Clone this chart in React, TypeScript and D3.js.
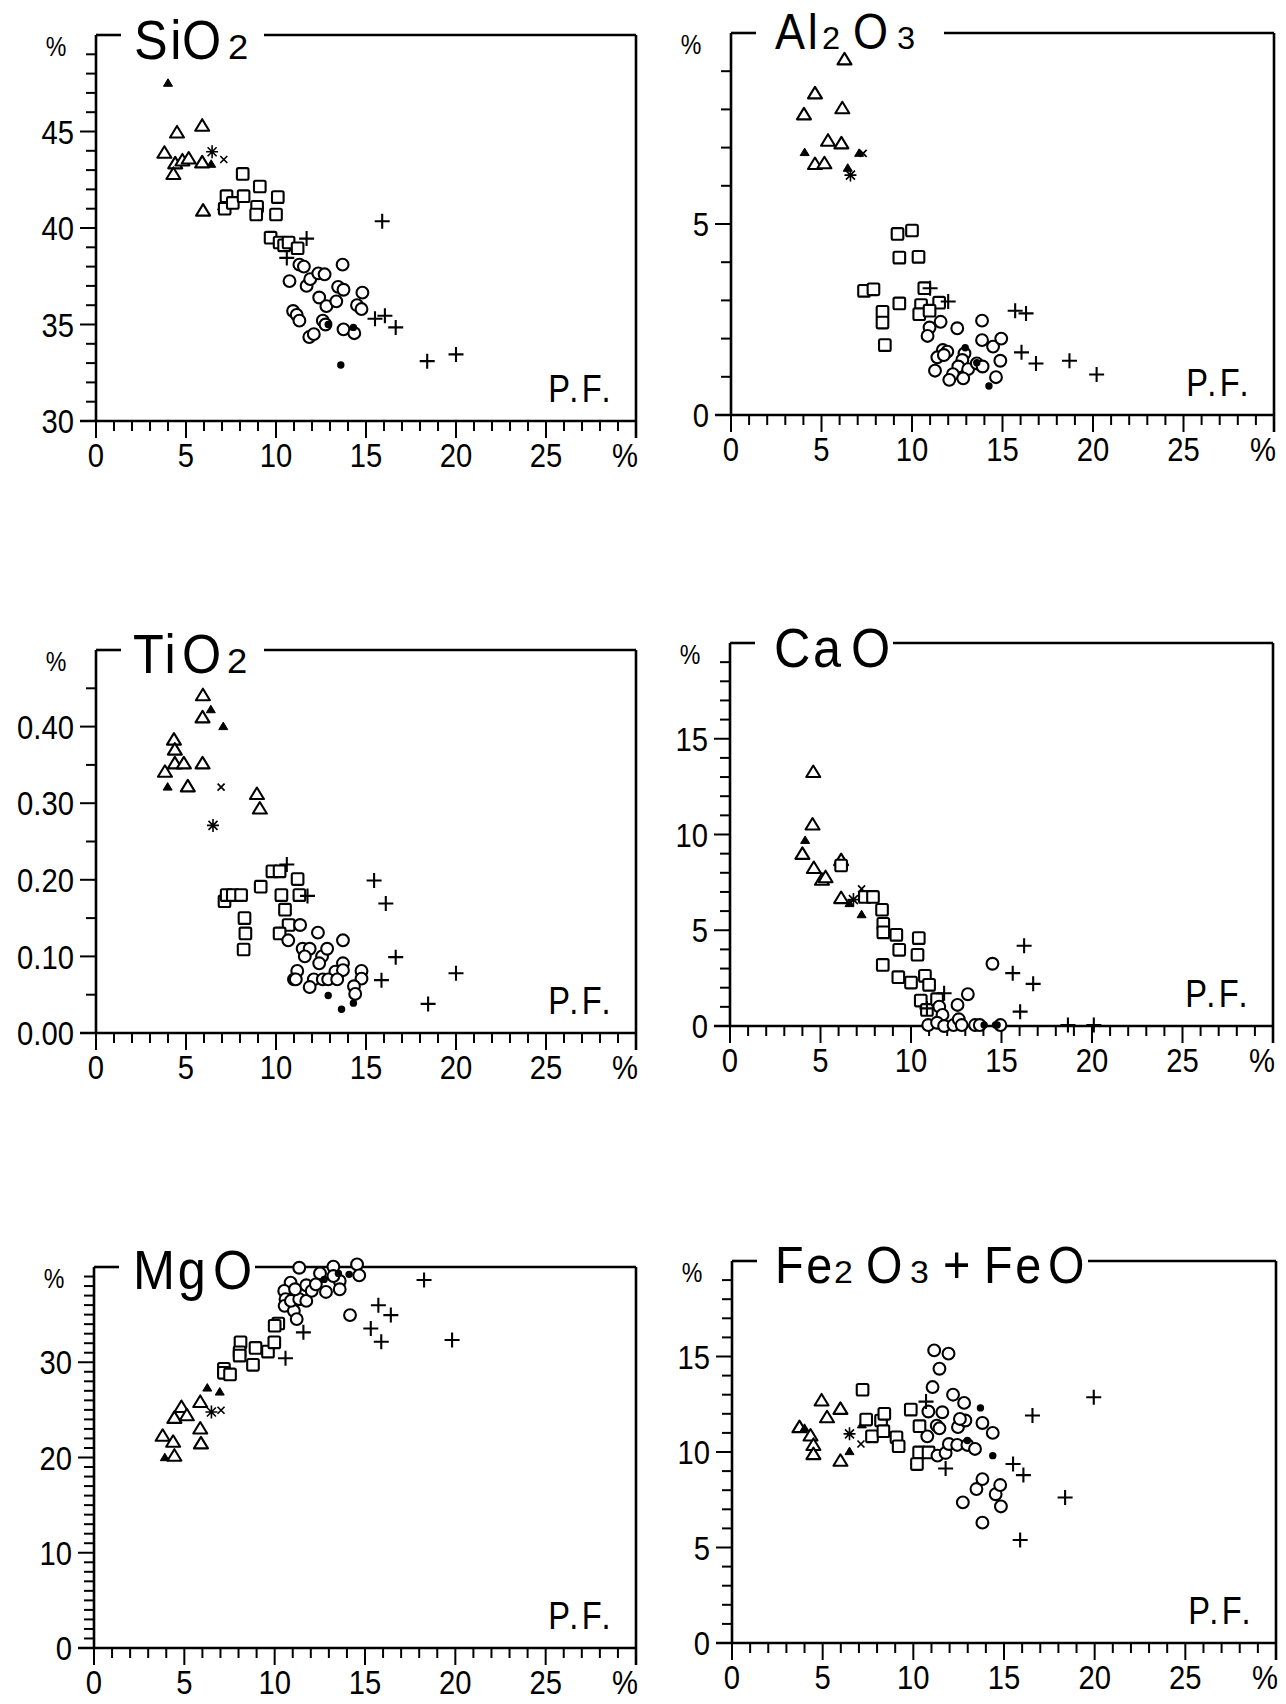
import React from "react";
import * as d3 from "d3";

// group codes: T open triangle, t filled triangle, S square, C open circle,
// c filled circle, P plus, A asterisk, X x-mark
type Pt = [number, number, string];

const PF_MINOR = d3.range(0, 30, 1);
const PF_LABELS = [0, 5, 10, 15, 20, 25];

const SIO2: Pt[] = [
  [4.0, 47.5, "t"], [6.4, 43.3, "t"], [7.0, 41.1, "t"],
  [3.8, 43.9, "T"], [4.5, 44.95, "T"], [5.9, 45.3, "T"], [4.4, 43.35, "T"], [4.8, 43.5, "T"],
  [5.15, 43.6, "T"], [5.9, 43.4, "T"], [4.3, 42.8, "T"], [5.95, 40.9, "T"],
  [6.45, 43.95, "A"], [7.1, 43.55, "X"],
  [7.25, 41.65, "S"], [7.15, 41.0, "S"], [7.6, 41.3, "S"], [8.15, 42.8, "S"], [8.2, 41.65, "S"],
  [9.1, 42.15, "S"], [8.95, 41.1, "S"], [8.9, 40.7, "S"], [10.1, 41.6, "S"], [10.0, 40.7, "S"],
  [9.7, 39.5, "S"], [10.2, 39.25, "S"], [10.45, 39.1, "S"], [10.7, 39.25, "S"], [11.2, 38.95, "S"],
  [11.3, 38.1, "C"], [11.55, 38.0, "C"], [10.75, 37.25, "C"], [11.7, 37.0, "C"], [11.9, 37.35, "C"],
  [12.35, 37.65, "C"], [12.7, 37.6, "C"], [12.4, 36.4, "C"], [12.8, 35.95, "C"], [13.35, 36.2, "C"],
  [13.45, 36.95, "C"], [13.75, 36.8, "C"], [13.7, 38.1, "C"], [14.5, 36.0, "C"], [14.75, 35.8, "C"],
  [14.8, 36.65, "C"], [10.95, 35.7, "C"], [11.15, 35.5, "C"], [11.3, 35.2, "C"], [11.85, 34.35, "C"],
  [12.1, 34.5, "C"], [12.6, 35.2, "C"], [12.75, 35.0, "C"], [13.75, 34.75, "C"], [14.35, 34.55, "C"],
  [12.9, 35.0, "c"], [14.3, 34.85, "c"], [13.6, 32.9, "c"],
  [11.7, 39.45, "P"], [10.6, 38.45, "P"], [15.9, 40.35, "P"], [15.5, 35.3, "P"], [16.05, 35.45, "P"],
  [16.65, 34.85, "P"], [18.4, 33.1, "P"], [20.0, 33.45, "P"],
];

const AL2O3: Pt[] = [
  [6.27, 9.31, "T"], [4.64, 8.42, "T"], [6.15, 8.03, "T"], [4.03, 7.87, "T"], [5.36, 7.18, "T"],
  [6.1, 7.11, "T"], [4.64, 6.57, "T"], [5.16, 6.59, "T"],
  [4.07, 6.87, "t"], [7.08, 6.85, "t"], [6.45, 6.46, "t"],
  [7.3, 6.85, "X"], [6.6, 6.28, "A"],
  [9.2, 4.74, "S"], [10.0, 4.83, "S"], [9.3, 4.12, "S"], [10.36, 4.14, "S"], [7.35, 3.25, "S"],
  [7.87, 3.29, "S"], [10.68, 3.32, "S"], [9.3, 2.92, "S"], [10.5, 2.88, "S"], [11.5, 2.94, "S"],
  [8.37, 2.7, "S"], [8.37, 2.42, "S"], [10.4, 2.64, "S"], [10.97, 2.73, "S"], [8.5, 1.83, "S"],
  [10.97, 2.29, "C"], [10.86, 2.07, "C"], [11.58, 2.44, "C"], [12.5, 2.27, "C"], [13.87, 2.47, "C"],
  [13.87, 1.96, "C"], [14.48, 1.79, "C"], [14.93, 2.0, "C"], [14.88, 1.42, "C"], [11.7, 1.7, "C"],
  [11.95, 1.66, "C"], [11.4, 1.51, "C"], [11.76, 1.57, "C"], [12.9, 1.61, "C"], [12.78, 1.44, "C"],
  [12.56, 1.27, "C"], [13.1, 1.2, "C"], [13.58, 1.35, "C"], [13.9, 1.27, "C"], [11.27, 1.16, "C"],
  [12.26, 1.07, "C"], [12.06, 0.92, "C"], [12.83, 0.96, "C"], [14.64, 0.99, "C"],
  [12.94, 1.76, "c"], [13.58, 1.37, "c"], [14.25, 0.76, "c"],
  [11.0, 3.32, "P"], [12.0, 2.97, "P"], [15.7, 2.73, "P"], [16.3, 2.66, "P"], [16.05, 1.64, "P"],
  [16.85, 1.35, "P"], [18.7, 1.42, "P"], [20.2, 1.06, "P"],
];

const TIO2: Pt[] = [
  [5.94, 0.441, "T"], [5.92, 0.412, "T"], [4.33, 0.383, "T"], [4.38, 0.37, "T"], [3.83, 0.341, "T"],
  [4.38, 0.352, "T"], [4.88, 0.352, "T"], [5.1, 0.322, "T"], [5.92, 0.352, "T"], [8.94, 0.312, "T"],
  [9.1, 0.293, "T"],
  [6.38, 0.422, "t"], [7.07, 0.4, "t"], [3.98, 0.321, "t"],
  [6.95, 0.321, "X"], [6.5, 0.271, "A"],
  [7.14, 0.172, "S"], [7.26, 0.18, "S"], [7.6, 0.18, "S"], [8.06, 0.18, "S"], [8.25, 0.15, "S"],
  [8.3, 0.13, "S"], [8.2, 0.109, "S"], [9.15, 0.191, "S"], [9.8, 0.211, "S"], [10.2, 0.211, "S"],
  [11.2, 0.201, "S"], [10.3, 0.18, "S"], [10.5, 0.161, "S"], [11.3, 0.18, "S"], [10.7, 0.141, "S"],
  [10.2, 0.13, "S"],
  [11.34, 0.141, "C"], [10.68, 0.121, "C"], [12.33, 0.131, "C"], [11.48, 0.11, "C"], [11.87, 0.11, "C"],
  [11.6, 0.1, "C"], [12.56, 0.1, "C"], [12.84, 0.11, "C"], [12.4, 0.091, "C"], [13.72, 0.121, "C"],
  [13.72, 0.091, "C"], [13.3, 0.08, "C"], [13.72, 0.082, "C"], [14.75, 0.081, "C"], [11.18, 0.081, "C"],
  [11.0, 0.07, "C"], [11.1, 0.07, "C"], [12.1, 0.07, "C"], [12.6, 0.07, "C"], [12.9, 0.07, "C"],
  [13.4, 0.07, "C"], [14.75, 0.071, "C"], [11.87, 0.06, "C"], [14.33, 0.061, "C"], [14.4, 0.051, "C"],
  [12.9, 0.049, "c"], [13.64, 0.031, "c"], [14.3, 0.039, "c"],
  [10.6, 0.22, "P"], [11.75, 0.179, "P"], [15.45, 0.199, "P"], [16.1, 0.169, "P"], [16.65, 0.099, "P"],
  [15.86, 0.069, "P"], [18.45, 0.038, "P"], [20.0, 0.078, "P"],
];

const CAO: Pt[] = [
  [4.6, 13.26, "T"], [4.56, 10.52, "T"], [4.0, 8.99, "T"], [4.63, 8.25, "T"], [5.08, 7.64, "T"],
  [5.28, 7.77, "T"], [6.14, 8.66, "T"], [6.14, 6.68, "T"],
  [4.15, 9.69, "t"], [6.6, 6.39, "t"], [7.27, 5.81, "t"],
  [7.27, 7.16, "X"], [6.82, 6.6, "A"],
  [6.14, 8.38, "S"], [7.45, 6.74, "S"], [7.9, 6.74, "S"], [8.4, 6.07, "S"], [8.47, 5.34, "S"],
  [8.47, 4.89, "S"], [9.19, 4.76, "S"], [9.35, 3.98, "S"], [10.43, 4.59, "S"], [10.36, 3.72, "S"],
  [8.44, 3.19, "S"], [9.3, 2.55, "S"], [10.0, 2.27, "S"], [10.77, 2.62, "S"], [11.0, 2.15, "S"],
  [10.54, 1.33, "S"], [10.88, 0.84, "S"], [11.44, 1.4, "S"],
  [11.56, 1.01, "C"], [11.74, 0.58, "C"], [12.57, 1.1, "C"], [13.14, 1.66, "C"], [14.5, 3.25, "C"],
  [10.95, 0.05, "C"], [11.44, 0.17, "C"], [11.83, 0.0, "C"], [12.35, 0.05, "C"], [12.64, 0.35, "C"],
  [12.8, 0.05, "C"], [13.54, 0.05, "C"], [13.8, 0.05, "C"], [14.94, 0.05, "C"],
  [14.04, 0.05, "c"], [14.67, 0.05, "c"], [14.76, 0.05, "c"],
  [11.83, 1.71, "P"], [10.88, 0.92, "P"], [15.62, 2.76, "P"], [16.25, 4.19, "P"], [16.75, 2.2, "P"],
  [16.03, 0.75, "P"], [18.67, 0.05, "P"], [20.1, 0.05, "P"],
];

const MGO: Pt[] = [
  [3.8, 22.28, "T"], [4.38, 21.65, "T"], [4.45, 20.19, "T"], [4.45, 24.16, "T"], [4.84, 25.3, "T"],
  [5.14, 24.43, "T"], [5.88, 25.83, "T"], [5.88, 23.04, "T"], [5.92, 21.48, "T"],
  [3.92, 19.98, "t"], [6.27, 27.29, "t"], [6.96, 26.87, "t"],
  [6.5, 24.78, "A"], [7.03, 24.96, "X"],
  [7.19, 29.31, "S"], [7.19, 28.89, "S"], [7.53, 28.72, "S"], [8.11, 32.09, "S"], [8.06, 31.05, "S"],
  [8.06, 30.7, "S"], [8.94, 31.5, "S"], [8.8, 29.73, "S"], [9.63, 31.12, "S"], [9.98, 32.09, "S"],
  [10.2, 34.07, "S"], [10.0, 33.83, "S"],
  [11.36, 39.92, "C"], [10.88, 38.36, "C"], [10.53, 37.49, "C"], [10.6, 36.62, "C"], [10.55, 35.92, "C"],
  [11.06, 35.4, "C"], [11.22, 34.53, "C"], [10.9, 36.44, "C"], [11.36, 36.62, "C"], [11.75, 36.44, "C"],
  [11.75, 38.08, "C"], [11.13, 37.66, "C"], [12.05, 37.49, "C"], [12.28, 38.18, "C"], [12.51, 39.33, "C"],
  [12.84, 37.38, "C"], [13.25, 40.03, "C"], [13.6, 38.53, "C"], [13.6, 37.66, "C"], [13.25, 39.05, "C"],
  [14.56, 40.27, "C"], [14.68, 39.12, "C"], [14.17, 34.95, "C"],
  [12.74, 38.7, "c"], [13.53, 39.33, "c"], [14.12, 39.23, "c"],
  [10.6, 30.42, "P"], [11.59, 33.14, "P"], [15.32, 33.55, "P"], [15.74, 35.99, "P"], [16.43, 34.95, "P"],
  [15.9, 32.16, "P"], [18.27, 38.64, "P"], [19.82, 32.34, "P"],
];

const FEO: Pt[] = [
  [3.72, 11.3, "T"], [4.33, 10.86, "T"], [4.49, 10.37, "T"], [4.49, 9.89, "T"], [4.94, 12.7, "T"],
  [5.24, 11.82, "T"], [5.98, 12.26, "T"], [5.98, 9.54, "T"],
  [4.0, 11.24, "t"], [6.48, 10.02, "t"], [7.16, 11.42, "t"],
  [6.48, 10.95, "A"], [7.11, 10.42, "X"],
  [7.2, 13.26, "S"], [7.4, 11.7, "S"], [7.72, 10.82, "S"], [8.22, 11.65, "S"], [8.4, 12.0, "S"],
  [8.35, 11.09, "S"], [9.07, 10.77, "S"], [9.19, 10.3, "S"], [9.86, 12.22, "S"], [10.34, 11.35, "S"],
  [10.32, 9.98, "S"], [10.2, 9.37, "S"], [10.84, 9.98, "S"],
  [11.15, 15.32, "C"], [11.94, 15.15, "C"], [11.44, 14.36, "C"], [11.06, 13.4, "C"], [10.83, 12.12, "C"],
  [11.6, 12.08, "C"], [12.19, 13.0, "C"], [12.8, 12.57, "C"], [11.29, 11.38, "C"], [11.44, 11.24, "C"],
  [10.77, 10.82, "C"], [11.33, 9.81, "C"], [11.78, 9.95, "C"], [11.96, 10.42, "C"], [12.42, 10.37, "C"],
  [12.46, 11.3, "C"], [12.87, 11.65, "C"], [12.57, 11.73, "C"], [12.98, 10.37, "C"], [13.4, 10.16, "C"],
  [13.81, 11.52, "C"], [14.38, 11.0, "C"], [12.73, 7.36, "C"], [13.48, 8.06, "C"], [13.81, 8.58, "C"],
  [14.54, 7.79, "C"], [14.79, 8.27, "C"], [14.83, 7.15, "C"], [13.81, 6.3, "C"],
  [13.7, 12.31, "c"], [12.98, 10.6, "c"], [14.38, 9.81, "c"],
  [10.7, 12.64, "P"], [11.78, 9.14, "P"], [15.5, 9.37, "P"], [16.07, 8.79, "P"], [16.57, 11.91, "P"],
  [15.89, 5.39, "P"], [18.37, 7.62, "P"], [19.95, 12.87, "P"],
];

const SIO2_LABELS = [30, 35, 40, 45];
const AL2O3_LABELS = [0, 5];
const TIO2_LABELS = [0, 0.1, 0.2, 0.3, 0.4];
const CAO_LABELS = [0, 5, 10, 15];
const MGO_LABELS = [0, 10, 20, 30];
const FEO_LABELS = [0, 5, 10, 15];

// title parts: text, is-small (subscript digit), x offset from panel left
type Part = [string, boolean, number];

const SIO2_TITLE: Part[] = [["Si", false, 38], ["O", false, 86], ["2", true, 132]];
const AL2O3_TITLE: Part[] = [["Al", false, 44], ["2", true, 91], ["O", false, 122], ["3", true, 166]];
const TIO2_TITLE: Part[] = [["Ti", false, 37], ["O", false, 86], ["2", true, 131]];
const CAO_TITLE: Part[] = [["Ca", false, 44], ["O", false, 121]];
const MGO_TITLE: Part[] = [["Mg", false, 39], ["O", false, 119]];
const FEO_TITLE: Part[] = [["Fe", false, 43], ["2", true, 102], ["O", false, 134], ["3", true, 178], ["+", false, 211], ["Fe", false, 252], ["O", false, 316]];

interface Panel {
  data: Pt[];
  title: Part[];
  yDomain: [number, number];
  yStep: number;
  yLabels: number[];
  fmt: (v: number) => string;
  L: number; R: number; T: number; B: number;
  resume: number;
  tSize: number; tBase: number;
}

const PANELS: Panel[] = [
  { data: SIO2, title: SIO2_TITLE, yDomain: [30, 50], yStep: 1, yLabels: SIO2_LABELS, fmt: d3.format("d"),
    L: 96, R: 636, T: 35, B: 421, resume: 168, tSize: 56, tBase: 24 },
  { data: AL2O3, title: AL2O3_TITLE, yDomain: [0, 10], yStep: 1, yLabels: AL2O3_LABELS, fmt: d3.format("d"),
    L: 731, R: 1274, T: 33, B: 415, resume: 213, tSize: 50, tBase: 16 },
  { data: TIO2, title: TIO2_TITLE, yDomain: [0, 0.5], yStep: 0.05, yLabels: TIO2_LABELS, fmt: d3.format(".2f"),
    L: 96, R: 636, T: 650, B: 1033, resume: 168, tSize: 56, tBase: 23 },
  { data: CAO, title: CAO_TITLE, yDomain: [0, 20], yStep: 1, yLabels: CAO_LABELS, fmt: d3.format("d"),
    L: 730, R: 1273, T: 643, B: 1026, resume: 163, tSize: 56, tBase: 24 },
  { data: MGO, title: MGO_TITLE, yDomain: [0, 40], yStep: 1, yLabels: MGO_LABELS, fmt: d3.format("d"),
    L: 94, R: 636, T: 1267, B: 1648, resume: 161, tSize: 56, tBase: 22 },
  { data: FEO, title: FEO_TITLE, yDomain: [0, 20], yStep: 1, yLabels: FEO_LABELS, fmt: d3.format("d"),
    L: 732, R: 1276, T: 1261, B: 1643, resume: 356, tSize: 52, tBase: 22 },
];

const FONT = "'Liberation Sans', Arial, Helvetica, sans-serif";
const LABEL_SIZE = 34;
const SQUEEZE = 0.86;

function CText({ x, y, anchor, size, children, dy, ls, sx }: { x: number; y: number; anchor: string; size: number; children: React.ReactNode; dy?: string; ls?: number; sx?: number }) {
  return (
    <text transform={`translate(${x},${y}) scale(${sx ?? SQUEEZE},1)`} textAnchor={anchor} fontFamily={FONT} fontSize={size} dy={dy} letterSpacing={ls}>
      {children}
    </text>
  );
}

function Marker({ g, x, y }: { g: string; x: number; y: number }) {
  const sw = 2.1;
  switch (g) {
    case "T":
      return <path d={`M${x},${y - 6.5}L${x + 7},${y + 5}L${x - 7},${y + 5}Z`} fill="#fff" stroke="#000" strokeWidth={sw} strokeLinejoin="round" />;
    case "t":
      return <path d={`M${x},${y - 4.5}L${x + 4.5},${y + 3}L${x - 4.5},${y + 3}Z`} fill="#000" stroke="#000" strokeWidth={1} />;
    case "S":
      return <rect x={x - 5.8} y={y - 5.8} width={11.6} height={11.6} rx={1.5} fill="#fff" stroke="#000" strokeWidth={sw} />;
    case "C":
      return <circle cx={x} cy={y} r={5.9} fill="#fff" stroke="#000" strokeWidth={sw} />;
    case "c":
      return <circle cx={x} cy={y} r={3.7} fill="#000" />;
    case "P":
      return <path d={`M${x - 7.5},${y}H${x + 7.5}M${x},${y - 7.5}V${y + 7.5}`} stroke="#000" strokeWidth={sw} />;
    case "A":
      return <path d={`M${x - 6},${y}H${x + 6}M${x},${y - 6.5}V${y + 6.5}M${x - 4.5},${y - 4.5}L${x + 4.5},${y + 4.5}M${x - 4.5},${y + 4.5}L${x + 4.5},${y - 4.5}`} stroke="#000" strokeWidth={1.6} />;
    case "X":
      return <path d={`M${x - 3.5},${y - 3.5}L${x + 3.5},${y + 3.5}M${x - 3.5},${y + 3.5}L${x + 3.5},${y - 3.5}`} stroke="#000" strokeWidth={1.7} />;
    default:
      return null;
  }
}

function PanelView({ p }: { p: Panel }) {
  const x = d3.scaleLinear().domain([0, 30]).range([p.L, p.R]);
  const y = d3.scaleLinear().domain(p.yDomain).range([p.B, p.T]);
  const yMinor = d3.range(p.yDomain[0], p.yDomain[1] - p.yStep / 2, p.yStep);
  const isMajorY = (v: number) => p.yLabels.some((l) => Math.abs(l - v) < 1e-6);
  return (
    <g>
      {yMinor.map((v, i) => (
        <line key={"yt" + i} x1={p.L - (isMajorY(v) ? 16 : 10)} x2={p.L} y1={y(v)} y2={y(v)} stroke="#000" strokeWidth={2} />
      ))}
      {PF_MINOR.map((v) => (
        <line key={"xt" + v} x1={x(v)} x2={x(v)} y1={p.B} y2={p.B + (v % 5 === 0 ? 17 : 10)} stroke="#000" strokeWidth={2} />
      ))}
      <line x1={p.L} x2={p.L} y1={p.T} y2={p.B} stroke="#000" strokeWidth={2.6} />
      <line x1={p.L - 16} x2={p.R} y1={p.B} y2={p.B} stroke="#000" strokeWidth={2.6} />
      <line x1={p.R} x2={p.R} y1={p.T} y2={p.B + 17} stroke="#000" strokeWidth={2.6} />
      <line x1={p.L} x2={p.L + 25} y1={p.T} y2={p.T} stroke="#000" strokeWidth={2.6} />
      <line x1={p.L + p.resume} x2={p.R} y1={p.T} y2={p.T} stroke="#000" strokeWidth={2.6} />
      {p.title.map(([s, small, off], i) => (
        <CText key={"tt" + i} x={p.L + off} y={p.T + p.tBase} anchor="start" size={small ? p.tSize * 0.62 : p.tSize} ls={small ? 0 : 3} sx={small ? 1.05 : 0.9}>{s}</CText>
      ))}
      {p.yLabels.map((v) => (
        <CText key={"yl" + v} x={p.L - 22} y={y(v)} dy="0.36em" anchor="end" size={LABEL_SIZE}>{p.fmt(v)}</CText>
      ))}
      <CText x={p.L - 40} y={p.T + 21} anchor="middle" size={27}>%</CText>
      {PF_LABELS.map((v) => (
        <CText key={"xl" + v} x={x(v)} y={p.B + 46} anchor="middle" size={LABEL_SIZE}>{v}</CText>
      ))}
      <CText x={p.R + 2} y={p.B + 46} anchor="end" size={LABEL_SIZE}>%</CText>
      <CText x={p.R - 22} y={p.B - 19} anchor="end" size={38} ls={4}>P.F.</CText>
      {p.data.map(([px, py, g], i) => (
        <Marker key={"m" + i} g={g} x={x(px)} y={y(py)} />
      ))}
    </g>
  );
}

export default function App() {
  return (
    <svg width={1286} height={1704} style={{ position: "absolute", left: 0, top: 0, background: "#fff" }}>
      <rect width={1286} height={1704} fill="#fff" />
      {PANELS.map((p, i) => (
        <PanelView key={i} p={p} />
      ))}
    </svg>
  );
}
